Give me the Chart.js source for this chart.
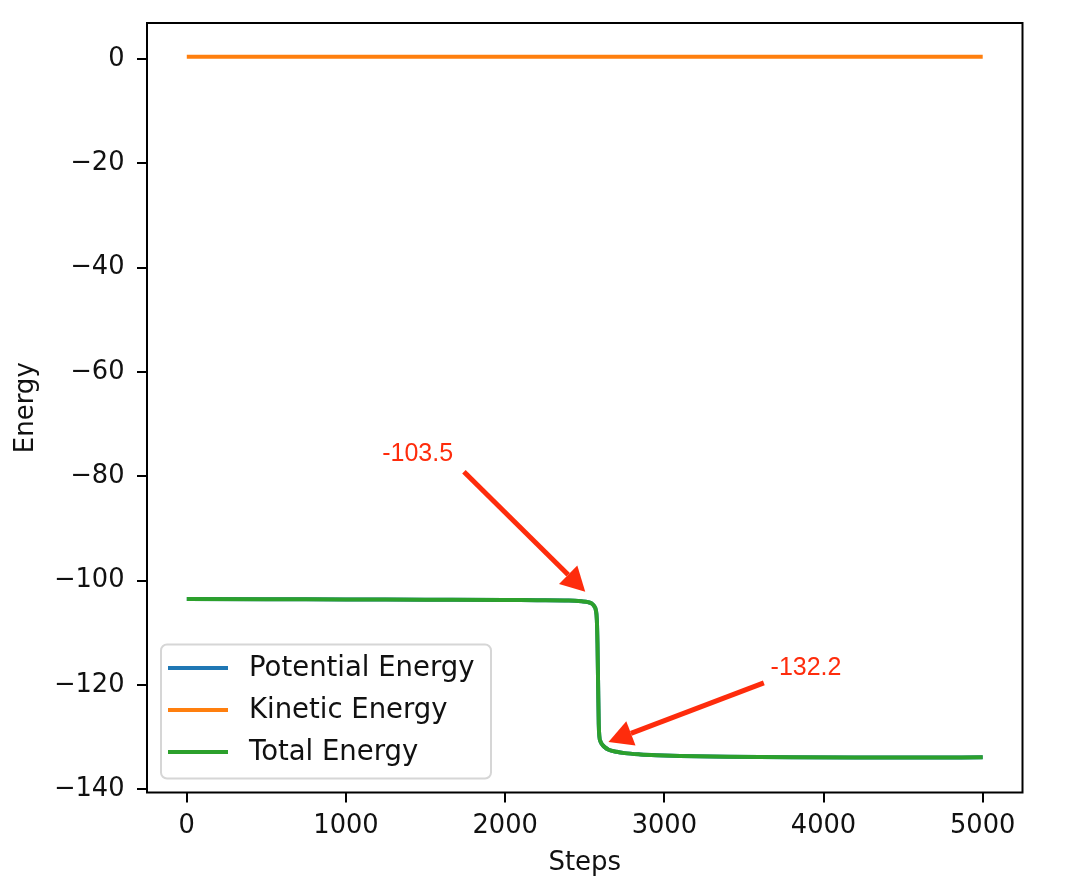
<!DOCTYPE html>
<html>
<head>
<meta charset="utf-8">
<script src="https://cdn.jsdelivr.net/npm/chart.js@4.4.1/dist/chart.umd.min.js"></script>
<style>
  html, body { margin: 0; padding: 0; background: #fff; }
  #wrap { width: 1090px; height: 890px; }
</style>
</head>
<body>
<div id="wrap"><canvas id="energyChart" width="1090" height="890"></canvas></div>
<script>
// data
const steps = [0, 500, 1000, 1500, 2000, 2200, 2400, 2480, 2520, 2545, 2560, 2570, 2576, 2580, 2584, 2588, 2592, 2600, 2612, 2625, 2650, 2700, 2750, 2850, 2950, 3100, 3400, 3800, 4200, 4600, 5000];
const totalEnergy = [-103.5, -103.55, -103.6, -103.65, -103.7, -103.75, -103.8, -103.95, -104.1, -104.4, -104.9, -105.7, -107.5, -112, -120, -127.5, -129.9, -130.9, -131.5, -131.9, -132.4, -132.8, -133.05, -133.3, -133.45, -133.6, -133.75, -133.85, -133.9, -133.9, -133.85];
// potential sits under the total curve (kinetic part is tiny)
const potentialEnergy = [-103.5, -103.55, -103.6, -103.65, -103.7, -103.75, -103.8, -103.95, -104.1, -104.4, -104.9, -105.7, -107.5, -112, -120, -127.5, -129.9, -130.9, -131.5, -131.9, -132.4, -132.8, -133.05, -133.3, -133.45, -133.6, -133.75, -133.85, -133.9, -133.9, -133.85];
const kineticEnergy = [0.45, 0.45, 0.45, 0.45, 0.45, 0.45, 0.45, 0.45, 0.45, 0.45, 0.45, 0.45, 0.45, 0.45, 0.45, 0.45, 0.45, 0.45, 0.45, 0.45, 0.45, 0.45, 0.45, 0.45, 0.45, 0.45, 0.45, 0.45, 0.45, 0.45, 0.45];

const xTicks = [0, 1000, 2000, 3000, 4000, 5000];
const yTicks = [0, -20, -40, -60, -80, -100, -120, -140];
const seriesLabels = ['Potential Energy', 'Kinetic Energy', 'Total Energy'];
const seriesColors = ['#1f77b4', '#ff7f0e', '#2ca02c'];

// annotations (data coordinates)
const noteLabels = ['-103.5', '-132.2'];
const noteText = [[1450, -75.5], [3890, -116.5]];
const noteTails = [[1741, -79.1], [3625, -119.6]];
const noteTips = [[2503, -102.1], [2649, -130.9]];

const FONT = 'DejaVu Sans';
const INK = '#111';

const toPoints = ys => steps.map((s, i) => ({ x: s, y: ys[i] }));

const framePlugin = {
    id: 'frame',
    afterDatasetsDraw(chart) {
        const { ctx, chartArea: a } = chart;
        ctx.save();
        ctx.strokeStyle = '#000';
        ctx.lineWidth = 2;
        ctx.strokeRect(a.left, a.top, a.right - a.left, a.bottom - a.top);
        ctx.restore();
    }
};

function drawArrow(ctx, x0, y0, x1, y1) {
    const ang = Math.atan2(y1 - y0, x1 - x0);
    const headLen = 24, headHalf = 13;
    const bx = x1 - headLen * Math.cos(ang);
    const by = y1 - headLen * Math.sin(ang);
    ctx.lineWidth = 5;
    ctx.beginPath();
    ctx.moveTo(x0, y0);
    ctx.lineTo(bx, by);
    ctx.stroke();
    ctx.beginPath();
    ctx.moveTo(x1, y1);
    ctx.lineTo(bx + headHalf * Math.sin(ang), by - headHalf * Math.cos(ang));
    ctx.lineTo(bx - headHalf * Math.sin(ang), by + headHalf * Math.cos(ang));
    ctx.closePath();
    ctx.fill();
}

const notesPlugin = {
    id: 'notes',
    afterDraw(chart) {
        const { ctx, scales: { x, y } } = chart;
        ctx.save();
        ctx.strokeStyle = ctx.fillStyle = '#fe2c0c';
        noteLabels.forEach((label, i) => {
            drawArrow(ctx,
                x.getPixelForValue(noteTails[i][0]), y.getPixelForValue(noteTails[i][1]),
                x.getPixelForValue(noteTips[i][0]), y.getPixelForValue(noteTips[i][1]));
            ctx.font = '25px "Liberation Sans", Arial, sans-serif';
            ctx.textAlign = 'center';
            ctx.textBaseline = 'middle';
            ctx.fillText(label, x.getPixelForValue(noteText[i][0]), y.getPixelForValue(noteText[i][1]) + 1);
        });
        ctx.restore();
    }
};

const legendBoxPlugin = {
    id: 'legendBox',
    afterDraw(chart) {
        const { ctx, chartArea: a } = chart;
        const w = 330, h = 134;
        const bx = a.left + 14, by = a.bottom - 14 - h;
        ctx.save();
        ctx.beginPath();
        ctx.roundRect(bx, by, w, h, 6);
        ctx.fillStyle = 'rgba(255,255,255,0.8)';
        ctx.fill();
        ctx.strokeStyle = '#d6d6d6';
        ctx.lineWidth = 2;
        ctx.stroke();
        ctx.font = '27.5px "' + FONT + '"';
        ctx.textBaseline = 'middle';
        ctx.textAlign = 'left';
        chart.data.datasets.forEach((ds, i) => {
            const ry = by + 23.5 + i * 42;
            ctx.strokeStyle = ds.borderColor;
            ctx.lineWidth = 4;
            ctx.beginPath();
            ctx.moveTo(bx + 7, ry);
            ctx.lineTo(bx + 67, ry);
            ctx.stroke();
            ctx.fillStyle = INK;
            ctx.fillText(ds.label, bx + 88, ry + 1.2);
        });
        ctx.restore();
    }
};

const minusFmt = v => (v < 0 ? '\u2212' + Math.abs(v) : String(v));

const chart = new Chart(document.getElementById('energyChart').getContext('2d'), {
    type: 'line',
    data: {
        datasets: [
            { label: seriesLabels[0], data: toPoints(potentialEnergy), borderColor: seriesColors[0], order: 3 },
            { label: seriesLabels[1], data: toPoints(kineticEnergy), borderColor: seriesColors[1], order: 2 },
            { label: seriesLabels[2], data: toPoints(totalEnergy), borderColor: seriesColors[2], order: 1 }
        ].map(ds => ({ ...ds, borderWidth: 4, pointRadius: 0, fill: false, cubicInterpolationMode: 'monotone' }))
    },
    options: {
        responsive: false,
        animation: false,
        devicePixelRatio: 1,
        layout: { padding: { left: 0, right: 67.5, top: 23, bottom: 0 } },
        plugins: { legend: { display: false }, tooltip: { enabled: false } },
        scales: {
            x: {
                type: 'linear',
                min: -250,
                max: 5250,
                afterBuildTicks: s => { s.ticks = xTicks.map(v => ({ value: v })); },
                afterFit: s => { s.height = 97.5; s.paddingLeft = 0; s.paddingRight = 0; },
                border: { display: false },
                grid: { drawOnChartArea: false, drawTicks: true, tickLength: 10, color: '#000', lineWidth: 2 },
                ticks: { color: INK, font: { family: FONT, size: 25.7 }, padding: 8, maxRotation: 0, callback: minusFmt },
                title: { display: true, text: 'Steps', color: INK, font: { family: FONT, size: 26 }, padding: { top: 0, bottom: 11 } }
            },
            y: {
                type: 'linear',
                min: -140.6,
                max: 6.9,
                afterBuildTicks: s => { s.ticks = yTicks.map(v => ({ value: v })); },
                afterFit: s => { s.width = 147; s.paddingTop = 0; s.paddingBottom = 0; },
                border: { display: false },
                grid: { drawOnChartArea: false, drawTicks: true, tickLength: 10, color: '#000', lineWidth: 2 },
                ticks: { color: INK, font: { family: FONT, size: 25.7 }, padding: 12.5, callback: minusFmt },
                title: { display: true, text: 'Energy', color: INK, font: { family: FONT, size: 26 }, padding: { top: 10.5, bottom: 0 } }
            }
        }
    },
    plugins: [framePlugin, notesPlugin, legendBoxPlugin]
});
</script>
</body>
</html>
